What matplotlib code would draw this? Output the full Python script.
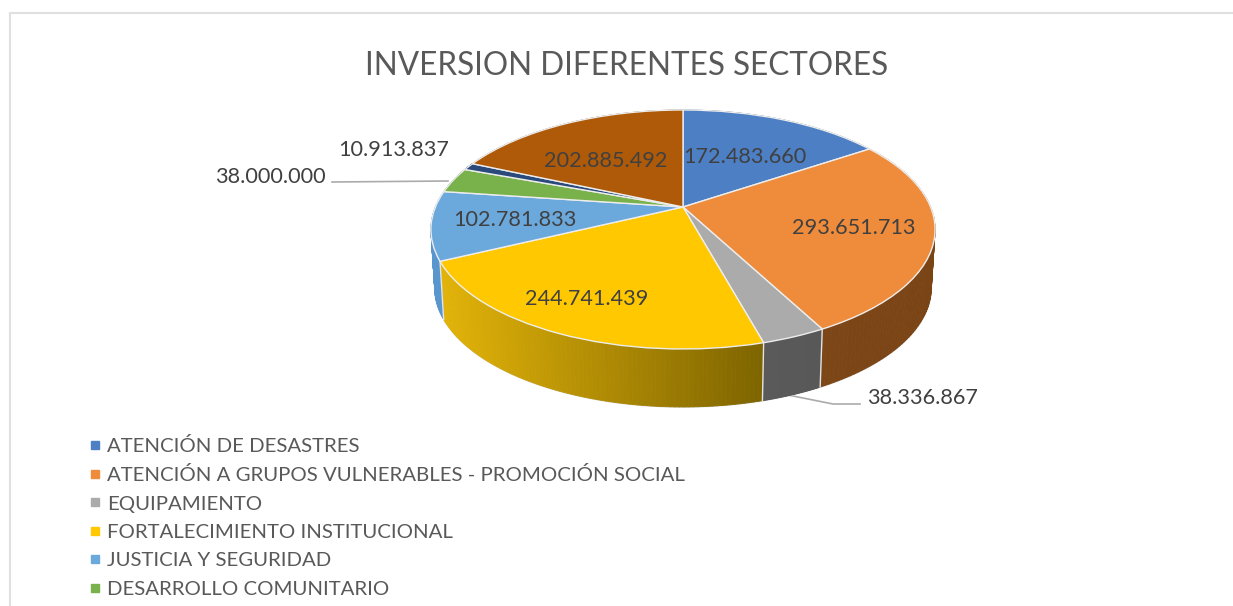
import numpy as np
import matplotlib
matplotlib.use("Agg")
import matplotlib.pyplot as plt
from matplotlib.transforms import Transform
from matplotlib.lines import Line2D
from matplotlib.collections import PolyCollection
from matplotlib.colors import to_rgb

title = "INVERSION DIFERENTES SECTORES"
value_labels = ["172.483.660", "293.651.713", "38.336.867", "244.741.439",
                "102.781.833", "38.000.000", "10.913.837", "202.885.492"]
values = [172483660, 293651713, 38336867, 244741439,
          102781833, 38000000, 10913837, 202885492]
legend_labels = ["ATENCIÓN DE DESASTRES",
                 "ATENCIÓN A GRUPOS VULNERABLES - PROMOCIÓN SOCIAL",
                 "EQUIPAMIENTO", "FORTALECIMIENTO INSTITUCIONAL",
                 "JUSTICIA Y SEGURIDAD", "DESARROLLO COMUNITARIO"]
colors = ["#4C7FC4", "#EF8C3C", "#ABABAB", "#FFC800",
          "#6BA8DC", "#79B14A", "#2A4A7C", "#AE5A08"]
wall_left = ["#2F5080", "#7C4617", "#5A5A5A", "#E2B308",
             "#5A96CE", "#4A7A30", "#1C3050", "#70400C"]
wall_right = ["#2F5080", "#7A4415", "#585858", "#7E6400",
              "#5A96CE", "#4A7A30", "#1C3050", "#70400C"]

FONT = "Lato"
TEXT = "#595959"
LABEL = "#404040"
W, H = 1233, 606
CX, CY = 683.0, 229.5
A, B, OFF, K = 247.6, 119.5, 22.5, 0.188
DEPTH, SHRINK = 58.0, 0.985


def project(u, v):
    w = 1 + K * v
    return CX + A * u / w, CY - (B * v + OFF) / w


class Perspective(Transform):
    input_dims = 2
    output_dims = 2
    is_separable = False
    has_inverse = False

    def transform_non_affine(self, values):
        v = np.asarray(values, float)
        x, y = project(v[:, 0], v[:, 1])
        return np.column_stack([x, y])


def rim(theta, lower=False):
    x, y = project(np.cos(theta), np.sin(theta))
    if lower:
        return CX + (x - CX) * SHRINK, y + DEPTH
    return x, y


fig = plt.figure(figsize=(W / 100, H / 100), dpi=100, facecolor="white")
ax = fig.add_axes([0, 0, 1, 1])

wedges, _ = ax.pie(values, colors=colors, startangle=90, counterclock=False,
                   wedgeprops=dict(edgecolor="#EDEDED", linewidth=1.0))
persp = Perspective() + ax.transData
for w in wedges:
    w.set_transform(persp)
    w.set_zorder(3)

ax.set_aspect("auto")
ax.set_xlim(0, W)
ax.set_ylim(H, 0)
ax.axis("off")

# side wall, strip by strip
frac = np.cumsum([0] + values) / sum(values)
edges = np.pi / 2 - 2 * np.pi * frac
for i in range(len(values)):
    t = np.linspace(edges[i], edges[i + 1], 90)
    xt, yt = rim(t)
    xb, yb = rim(t, True)
    polys, cols = [], []
    cl, cr = np.array(to_rgb(wall_left[i])), np.array(to_rgb(wall_right[i]))
    lo, hi = xt.min(), xt.max()
    for j in range(len(t) - 1):
        polys.append([(xt[j], yt[j]), (xt[j + 1], yt[j + 1]),
                      (xb[j + 1], yb[j + 1]), (xb[j], yb[j])])
        f = (0.5 * (xt[j] + xt[j + 1]) - lo) / max(hi - lo, 1)
        cols.append(cl + (cr - cl) * f)
    ax.add_collection(PolyCollection(polys, facecolors=cols, edgecolors=cols,
                                     linewidths=0.6, zorder=1))
    xa, ya = rim(edges[i])
    xc, yc = rim(edges[i], True)
    if ya > CY:
        ax.plot([xa, xc], [ya, yc], color="#E4E4E4", lw=1.0, zorder=2)

full = np.linspace(0, 2 * np.pi, 400)
xl, yl = rim(full, True)
front = yl > CY + DEPTH - 10
ax.plot(xl[front], yl[front], color="#DADADA", lw=1.2, zorder=0.5)


# data labels
def centre_label(i, x, y):
    ax.text(x, y, value_labels[i], fontsize=15.6, color=LABEL, family=FONT,
            ha="center", va="center", zorder=5)


centre_label(0, 745, 157)
centre_label(1, 854, 228)
centre_label(2, 923, 398)
centre_label(3, 587, 299)
centre_label(4, 515, 220)
centre_label(5, 270, 177)
centre_label(6, 394, 150)
centre_label(7, 606, 161)

ax.plot([332, 448], [182, 181], color="#ABABAB", lw=1.2, zorder=2)
ax.plot([783, 833, 860], [394, 404, 404], color="#ABABAB", lw=1.2, zorder=0.4)

ax.text(627, 66, title, fontsize=22.7, color=TEXT, family=FONT,
        ha="center", va="center")

# chart frame, cut off by the picture on the right and bottom
ax.plot([10, 10, W], [H, 13, 13], color="#E0E0E0", lw=1.5, zorder=0.2,
        solid_joinstyle="miter")

handles = [Line2D([], [], linestyle="none", marker="s", markersize=5.6,
                  color=colors[i], label=legend_labels[i])
           for i in range(len(legend_labels))]
ax.legend(handles=handles, loc="upper left", bbox_to_anchor=(91 / W, 1 - 437 / H),
          bbox_transform=ax.transAxes, frameon=False, handlelength=0.4,
          handletextpad=0.39, labelspacing=0.548, borderpad=0, borderaxespad=0,
          prop=dict(family=FONT, size=14.65), labelcolor=TEXT)

fig.savefig("out.png", dpi=100)
